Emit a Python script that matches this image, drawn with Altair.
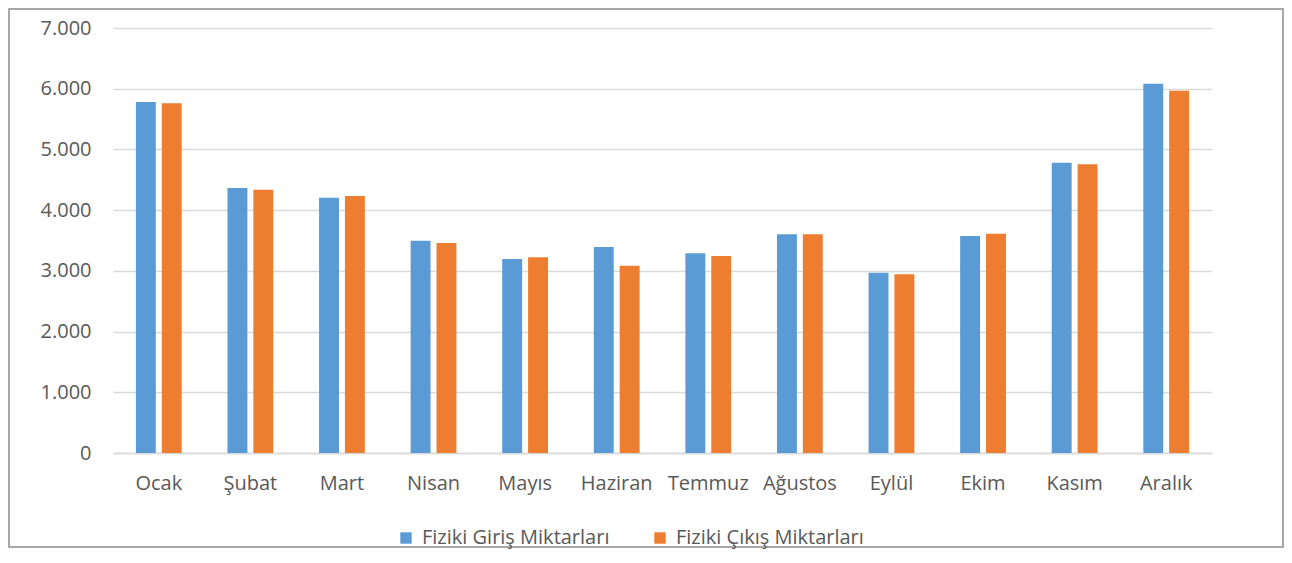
import altair as alt
import pandas as pd

months = ["Ocak", "Şubat", "Mart", "Nisan", "Mayıs", "Haziran", "Temmuz",
          "Ağustos", "Eylül", "Ekim", "Kasım", "Aralık"]
series_names = ["Fiziki Giriş Miktarları", "Fiziki Çıkış Miktarları"]
giris = [5780, 4365, 4205, 3495, 3195, 3395, 3290, 3605, 2970, 3575, 4780, 6080]
cikis = [5760, 4335, 4235, 3460, 3225, 3085, 3245, 3605, 2945, 3610, 4755, 5965]
colors = ["#5B9BD5", "#ED7D31"]
y_ticks = [0, 1000, 2000, 3000, 4000, 5000, 6000, 7000]

rows = []
for m, g, c in zip(months, giris, cikis):
    rows.append({"ay": m, "seri": series_names[0], "deger": g})
    rows.append({"ay": m, "seri": series_names[1], "deger": c})
df = pd.DataFrame(rows)

FONT = "Open Sans"
TXT = "#595959"

bars = alt.Chart(df).mark_bar().encode(
    x=alt.X("ay:N", sort=months,
            scale=alt.Scale(paddingInner=0.5, paddingOuter=0.25),
            axis=alt.Axis(title=None, labelAngle=0, ticks=False, domain=True,
                          domainColor="#D9D9D9", domainWidth=1.5, grid=False,
                          labelFontSize=20, labelFont=FONT, labelColor=TXT,
                          labelPadding=20)),
    xOffset=alt.XOffset("seri:N", sort=series_names,
                        scale=alt.Scale(paddingInner=0.23)),
    y=alt.Y("deger:Q", scale=alt.Scale(domain=[0, 7000]),
            axis=alt.Axis(title=None, values=y_ticks, ticks=False, domain=False,
                          grid=True, gridColor="#D9D9D9", gridWidth=1.5,
                          labelFontSize=20, labelFont=FONT, labelColor=TXT,
                          labelPadding=22,
                          labelExpr="replace(format(datum.value, ','), ',', '.')")),
    color=alt.Color("seri:N", sort=series_names,
                    scale=alt.Scale(domain=series_names, range=colors),
                    legend=alt.Legend(title=None, orient="none", direction="horizontal",
                                      legendX=283, legendY=500,
                                      symbolType="square", symbolSize=130,
                                      symbolStrokeWidth=0,
                                      labelFontSize=20, labelFont=FONT, labelColor=TXT,
                                      labelLimit=0,
                                      labelOffset=6, columnPadding=40, padding=0)),
)

frame = alt.Chart(alt.Data(values=[{"k": 1}])).mark_rect(
    fill=None, stroke="#8C8C8C", strokeWidth=1.5
).encode(
    x=alt.value(-104), x2=alt.value(1170),
    y=alt.value(-19), y2=alt.value(519),
)

chart = alt.layer(bars, frame).properties(
    width=1099, height=425,
    padding={"left": 105, "top": 20, "right": 72, "bottom": 96},
    autosize=alt.AutoSizeParams(type="none"),
    background="white",
).configure_view(stroke=None)

chart.save("out.html", embed_options={"renderer": "svg", "actions": False})
